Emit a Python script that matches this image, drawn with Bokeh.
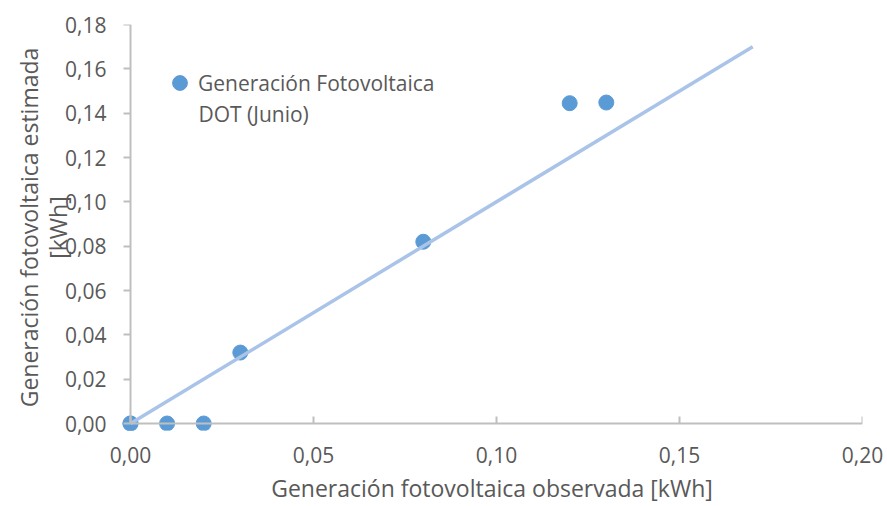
from bokeh.plotting import figure
from bokeh.models import (Range1d, SingleIntervalTicker, CustomJSTickFormatter, Label, Legend,
                          LegendItem, LinearAxis, CustomLabelingPolicy)
from bokeh.embed import file_html
from bokeh.resources import INLINE

# Data
observada = [0.0, 0.0, 0.01, 0.02, 0.03, 0.08, 0.12, 0.13]
estimada = [0.0, 0.0, 0.0, 0.0, 0.032, 0.082, 0.1445, 0.1448]
trend_x = [0.0, 0.17]
trend_y = [0.0, 0.17]
series_line1 = "Generación Fotovoltaica"
series_line2 = "DOT (Junio)"
x_title = "Generación fotovoltaica observada [kWh]"
y_title = "Generación fotovoltaica estimada\n[kWh]"

X_MAX, Y_MAX = 0.2, 0.18
X_STEP, Y_STEP = 0.05, 0.02
FONT = "Open Sans"
TXT = "#595959"
AX = "#BFBFBF"

# frame geometry (pixels)
LEFT0, RIGHT, TOP, BOTTOM0 = 130, 862, 24, 423   # where 0 / max land
PADX, PADY = 9, 7                                 # room so markers at 0 are not clipped
x_lo = -X_MAX * PADX / (RIGHT - LEFT0)
y_lo = -Y_MAX * PADY / (BOTTOM0 - TOP)

p = figure(width=887, height=506, output_backend="svg", toolbar_location=None,
           x_range=Range1d(x_lo, X_MAX), y_range=Range1d(y_lo, Y_MAX),
           min_border_left=LEFT0 - PADX, min_border_right=887 - RIGHT,
           min_border_top=TOP, min_border_bottom=506 - BOTTOM0 - PADY)
p.outline_line_color = None
p.grid.visible = False

fmt = CustomJSTickFormatter(code="return tick.toFixed(2).replace('.', ',');")

# edge axes: only labels (no line, no ticks)
p.xaxis.ticker = SingleIntervalTicker(interval=X_STEP)
p.yaxis.ticker = SingleIntervalTicker(interval=Y_STEP)
for ax in (p.xaxis[0], p.yaxis[0]):
    ax.formatter = fmt
    ax.axis_line_color = None
    ax.major_tick_line_color = None
    ax.minor_tick_line_color = None
    ax.major_tick_in = 0
    ax.major_tick_out = 0
    ax.major_label_text_font = FONT
    ax.major_label_text_font_size = "21px"
    ax.major_label_text_color = TXT
    ax.axis_label_text_font = FONT
    ax.axis_label_text_font_size = "23px"
    ax.axis_label_text_font_style = "normal"
    ax.axis_label_text_color = TXT
p.xaxis.bounds = (0, X_MAX)
p.yaxis.bounds = (0, Y_MAX)
p.xaxis.major_label_standoff = 12
p.xaxis.axis_label = x_title
p.xaxis.axis_label_text_line_height = 0.8
p.xaxis.axis_label_standoff = 6
p.yaxis.major_label_standoff = 11
p.yaxis.axis_label = y_title
p.yaxis.axis_label_text_line_height = 0.9
p.yaxis.axis_label_standoff = -12

# axis lines and ticks crossing at 0 (no labels of their own)
no_labels = CustomLabelingPolicy(code="return")
xline = LinearAxis(fixed_location=0, ticker=SingleIntervalTicker(interval=X_STEP), bounds=(0, X_MAX),
                   axis_line_color=AX, axis_line_width=2, major_tick_line_color=AX, major_tick_line_width=2,
                   major_tick_in=7, major_tick_out=0, minor_tick_line_color=None,
                   major_label_standoff=0, major_label_text_font_size="1px",
                   major_label_policy=no_labels)
yline = LinearAxis(fixed_location=0, ticker=SingleIntervalTicker(interval=Y_STEP), bounds=(0, Y_MAX),
                   axis_line_color=AX, axis_line_width=2, major_tick_line_color=AX, major_tick_line_width=2,
                   major_tick_in=0, major_tick_out=7, minor_tick_line_color=None,
                   major_label_standoff=0, major_label_text_font_size="1px",
                   major_label_policy=no_labels)
p.add_layout(xline, "below")
p.add_layout(yline, "left")

r = p.scatter(observada, estimada, size=15, color="#5B9BD5", line_color="#5B9BD5")
p.line(trend_x, trend_y, line_color="#A9C4E8", line_width=3.5)

legend = Legend(items=[LegendItem(label=series_line1, renderers=[r])], location=(40, 329))
legend.background_fill_alpha = 0
legend.border_line_color = None
legend.padding = 0
legend.margin = 0
legend.glyph_width = 37
legend.glyph_height = 37
legend.label_standoff = 0
legend.label_text_font = FONT
legend.label_text_font_size = "21px"
legend.label_text_color = TXT
p.add_layout(legend)

p.add_layout(Label(x=(198 - LEFT0) / (RIGHT - LEFT0) * X_MAX, y=(BOTTOM0 - 113) / (BOTTOM0 - TOP) * Y_MAX,
                   text=series_line2, text_baseline="middle", text_align="left",
                   text_font=FONT, text_font_size="21px", text_color=TXT))

open("out.html", "w").write(file_html(p, INLINE))
